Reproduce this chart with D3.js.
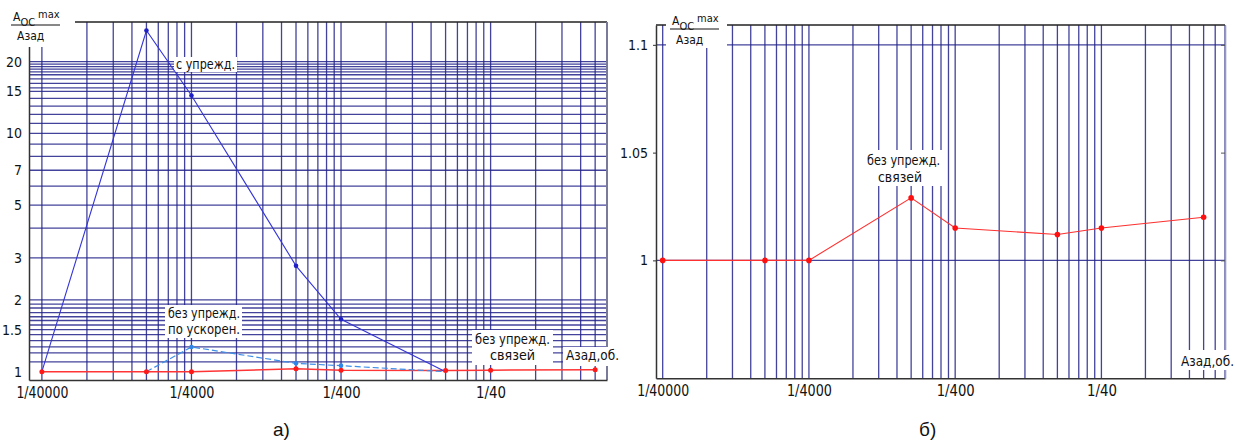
<!DOCTYPE html>
<html><head><meta charset="utf-8">
<script src="https://cdn.jsdelivr.net/npm/d3@7"></script>
<style>
body{margin:0;background:#fff}
text{font-family:"DejaVu Sans Condensed","Liberation Sans Narrow","DejaVu Sans",sans-serif;font-stretch:condensed;fill:#111}
</style>
</head><body>
<svg id="c" width="1235" height="444"></svg>
<script>
// ---- data ----
const xCats = [1/40000, 1/8000, 1/4000, 1/800, 1/400, 1/80, 1/40, 1/8];
const redVals = [1, 1, 1, 1.029, 1.015, 1.012, 1.015, 1.020];          // без упрежд. связей
const blueX = [1/40000, 1/8000, 1/4000, 1/800, 1/400, 1/80];
const blueVals = [1, 27, 14.4, 2.78, 1.66, 1.0];                       // с упрежд.
const lightX = [1/8000, 1/4000, 1/800, 1/400, 1/80];
const lightVals = [1, 1.27, 1.084, 1.06, 1.0];                          // без упрежд. по ускорен.
const xTickVals = [1/40000, 1/4000, 1/400, 1/40];
const xTickLabels = ["1/40000", "1/4000", "1/400", "1/40"];
const yTicksA = [1, 1.5, 2, 3, 5, 7, 10, 15, 20];
const yGridA = [1.1, 1.2, 1.27, 1.35, 1.43, 1.5, 1.57, 1.64, 1.7, 1.77, 1.85, 1.92, 2,
                3, 4, 5, 6, 7, 8, 9, 10, 11, 12, 13, 14, 15, 15.5, 16.2, 16.9, 17.6, 18.1, 18.6, 19.05, 19.5, 20];
const yTicksB = [1, 1.05, 1.1];
const yGridB = [1, 1.1];
const gridBases = [2.5e-5, 2.5e-4, 2.5e-3, 2.5e-2];
const gridMult = [1, 2, 3, 4, 5, 6, 7, 8, 9];

const svg = d3.select("#c");
const GRID = "#22228a";
const vGrid = gridBases.flatMap(b => gridMult.map(m => b * m));
const tickLen = {"1/40000": 52, "1/4000": 45, "1/400": 38, "1/40": 30};

// ================= panel a =================
const xA = d3.scaleLog().domain([2.05e-5, 0.15]).range([29, 607]);
const yA = d3.scaleLog().domain([0.923, 29.3]).range([380, 22]);
const gA = svg.append("g");

gA.selectAll("line.vg").data(vGrid.filter(v => v <= 0.1501)).enter().append("line")
  .attr("x1", d => xA(d)).attr("x2", d => xA(d)).attr("y1", 22).attr("y2", 380)
  .attr("stroke", GRID).attr("stroke-width", 1.3).attr("stroke-opacity", 0.85);
gA.selectAll("line.hg").data(yGridA).enter().append("line")
  .attr("x1", 29).attr("x2", 607).attr("y1", d => yA(d)).attr("y2", d => yA(d))
  .attr("stroke", GRID).attr("stroke-width", 1.3).attr("stroke-opacity", 0.85);

// frame
gA.append("line").attr("x1", 29).attr("x2", 607).attr("y1", 22).attr("y2", 22).attr("stroke", "#222").attr("stroke-width", 1.3);
gA.append("line").attr("x1", 607).attr("x2", 607).attr("y1", 22).attr("y2", 380).attr("stroke", "#7a7a9a").attr("stroke-width", 2);

const axBA = gA.append("g").attr("transform", "translate(0,380)")
  .call(d3.axisBottom(xA).tickValues(xTickVals).tickFormat((d, i) => xTickLabels[i]).tickSize(0).tickPadding(7));
axBA.select(".domain").attr("stroke", "#333").attr("stroke-width", 1.5);
axBA.selectAll("text").attr("font-size", 15).attr("font-family", null)
  .attr("textLength", function() { return tickLen[this.textContent]; }).attr("lengthAdjust", "spacingAndGlyphs");

const axLA = gA.append("g").attr("transform", "translate(29,0)")
  .call(d3.axisLeft(yA).tickValues(yTicksA).tickFormat(d => String(d)).tickSize(0).tickSizeOuter(0).tickPadding(7));
axLA.select(".domain").attr("stroke", "#333").attr("stroke-width", 1.5);
axLA.selectAll("text").attr("font-size", 14).attr("font-family", null);

// label boxes (white backgrounds)
const boxesA = [[0, 0, 75, 47], [174, 57, 63, 15], [165, 305, 77, 33], [472, 330, 81, 35], [563, 347, 58, 19]];
gA.selectAll("rect.bx").data(boxesA).enter().append("rect")
  .attr("x", d => d[0]).attr("y", d => d[1]).attr("width", d => d[2]).attr("height", d => d[3]).attr("fill", "#fff");

// series
const lineA = (xs) => d3.line().x((d, i) => xA(xs[i])).y(d => yA(d));
gA.append("path").datum(redVals).attr("d", lineA(xCats)).attr("fill", "none").attr("stroke", "#ff3535").attr("stroke-width", 1.5);
gA.append("path").datum(lightVals).attr("d", lineA(lightX)).attr("fill", "none").attr("stroke", "#3d8fe8").attr("stroke-width", 1.2).attr("stroke-dasharray", "6,3");
gA.append("path").datum(blueVals).attr("d", lineA(blueX)).attr("fill", "none").attr("stroke", "#3434d8").attr("stroke-width", 1.1);

gA.selectAll("circle.r").data(redVals).enter().append("circle")
  .attr("cx", (d, i) => xA(xCats[i])).attr("cy", d => yA(d)).attr("r", 2.5).attr("fill", "#ff1a1a");
gA.selectAll("circle.lb").data(lightVals).enter().filter((d, i) => i > 0 && i < 4).append("circle")
  .attr("cx", (d, i) => xA(lightX[i + 1])).attr("cy", d => yA(d)).attr("r", 2.3).attr("fill", "#2f86e6");
gA.selectAll("circle.b").data(blueVals).enter().filter((d, i) => i > 0 && i < 5).append("circle")
  .attr("cx", (d, i) => xA(blueX[i + 1])).attr("cy", d => yA(d)).attr("r", 2.3).attr("fill", "#1f1fc8");

// annotations [text, x, y, width]
const annA = [["с упрежд.", 176, 69, 59], ["без упрежд.", 168, 318, 72], ["по ускорен.", 168, 334, 72],
              ["без упрежд.", 475, 344, 75], ["связей", 490, 360, 45], ["Азад,об.", 566, 360, 53]];
gA.selectAll("text.an").data(annA).enter().append("text")
  .attr("x", d => d[1]).attr("y", d => d[2]).attr("font-size", 14)
  .attr("textLength", d => d[3]).attr("lengthAdjust", "spacingAndGlyphs").text(d => d[0]);

// y label fraction
function fracLabel(g, x, y) {
  const t = g.append("text").attr("x", x).attr("y", y).attr("font-size", 12);
  t.append("tspan").text("A");
  t.append("tspan").attr("dy", 5).attr("font-size", 11).text("ОС");
  t.append("tspan").attr("dy", -8).attr("dx", 3).attr("font-size", 11).text("max");
  g.append("line").attr("x1", x - 2).attr("x2", x + 47).attr("y1", y + 4).attr("y2", y + 4).attr("stroke", "#111").attr("stroke-width", 1);
  g.append("text").attr("x", x + 4).attr("y", y + 19).attr("font-size", 12).text("Азад");
}
fracLabel(gA, 13, 21);

svg.append("text").attr("x", 273).attr("y", 436).attr("font-size", 19)
  .style("font-family", "'Liberation Sans', Arial, sans-serif").style("font-stretch", "normal").text("а)");

// ================= panel b =================
const xB = d3.scaleLog().domain([2.25e-5, 0.175]).range([656, 1225]);
const yB = d3.scaleLinear().domain([0.9453, 1.1092]).range([378.3, 25]);
const gB = svg.append("g");

gB.selectAll("line.vg").data(vGrid.filter(v => v <= 0.176)).enter().append("line")
  .attr("x1", d => xB(d)).attr("x2", d => xB(d)).attr("y1", 25).attr("y2", 378.3)
  .attr("stroke", GRID).attr("stroke-width", 1.3).attr("stroke-opacity", 0.85);
gB.selectAll("line.hg").data(yGridB).enter().append("line")
  .attr("x1", 656).attr("x2", 1225).attr("y1", d => yB(d)).attr("y2", d => yB(d))
  .attr("stroke", GRID).attr("stroke-width", 1.3).attr("stroke-opacity", 0.85);

gB.append("line").attr("x1", 656).attr("x2", 1225).attr("y1", 25).attr("y2", 25).attr("stroke", "#222").attr("stroke-width", 1.3);

const axBB = gB.append("g").attr("transform", "translate(0,378.3)")
  .call(d3.axisBottom(xB).tickValues(xTickVals).tickFormat((d, i) => xTickLabels[i]).tickSize(0).tickPadding(7));
axBB.select(".domain").attr("stroke", "#333").attr("stroke-width", 1.5);
axBB.selectAll("text").attr("font-size", 15).attr("font-family", null)
  .attr("textLength", function() { return tickLen[this.textContent]; }).attr("lengthAdjust", "spacingAndGlyphs");

const axLB = gB.append("g").attr("transform", "translate(656,0)")
  .call(d3.axisLeft(yB).tickValues(yTicksB).tickFormat(d => String(d)).tickSize(3).tickSizeOuter(0).tickPadding(5));
axLB.select(".domain").attr("stroke", "#333").attr("stroke-width", 1.5);
axLB.selectAll("line").attr("stroke", "#333");
axLB.selectAll("text").attr("font-size", 14).attr("font-family", null);

const axRB = gB.append("g").attr("transform", "translate(1225,0)")
  .call(d3.axisRight(yB).tickValues(yTicksB).tickFormat("").tickSize(-4).tickSizeOuter(0));
axRB.select(".domain").attr("stroke", "#9a9ab8").attr("stroke-width", 1.6);
axRB.selectAll("line").attr("stroke", "#555");

const boxesB = [[666, 3, 61, 45], [864, 150, 78, 36], [1178, 350, 57, 20]];
gB.selectAll("rect.bx").data(boxesB).enter().append("rect")
  .attr("x", d => d[0]).attr("y", d => d[1]).attr("width", d => d[2]).attr("height", d => d[3]).attr("fill", "#fff");

gB.append("path").datum(redVals)
  .attr("d", d3.line().x((d, i) => xB(xCats[i])).y(d => yB(d)))
  .attr("fill", "none").attr("stroke", "#ff3030").attr("stroke-width", 1.1);
gB.selectAll("circle.r").data(redVals).enter().append("circle")
  .attr("cx", (d, i) => xB(xCats[i])).attr("cy", d => yB(d)).attr("r", 2.8).attr("fill", "#ff1010");

const annB = [["без упрежд.", 867, 165, 73], ["связей", 878, 182, 44], ["Азад,об.", 1181, 366, 53]];
gB.selectAll("text.an").data(annB).enter().append("text")
  .attr("x", d => d[1]).attr("y", d => d[2]).attr("font-size", 14)
  .attr("textLength", d => d[3]).attr("lengthAdjust", "spacingAndGlyphs").text(d => d[0]);

fracLabel(gB, 672, 25);

svg.append("text").attr("x", 919).attr("y", 436).attr("font-size", 19)
  .style("font-family", "'Liberation Sans', Arial, sans-serif").style("font-stretch", "normal").text("б)");
</script>
</body></html>
